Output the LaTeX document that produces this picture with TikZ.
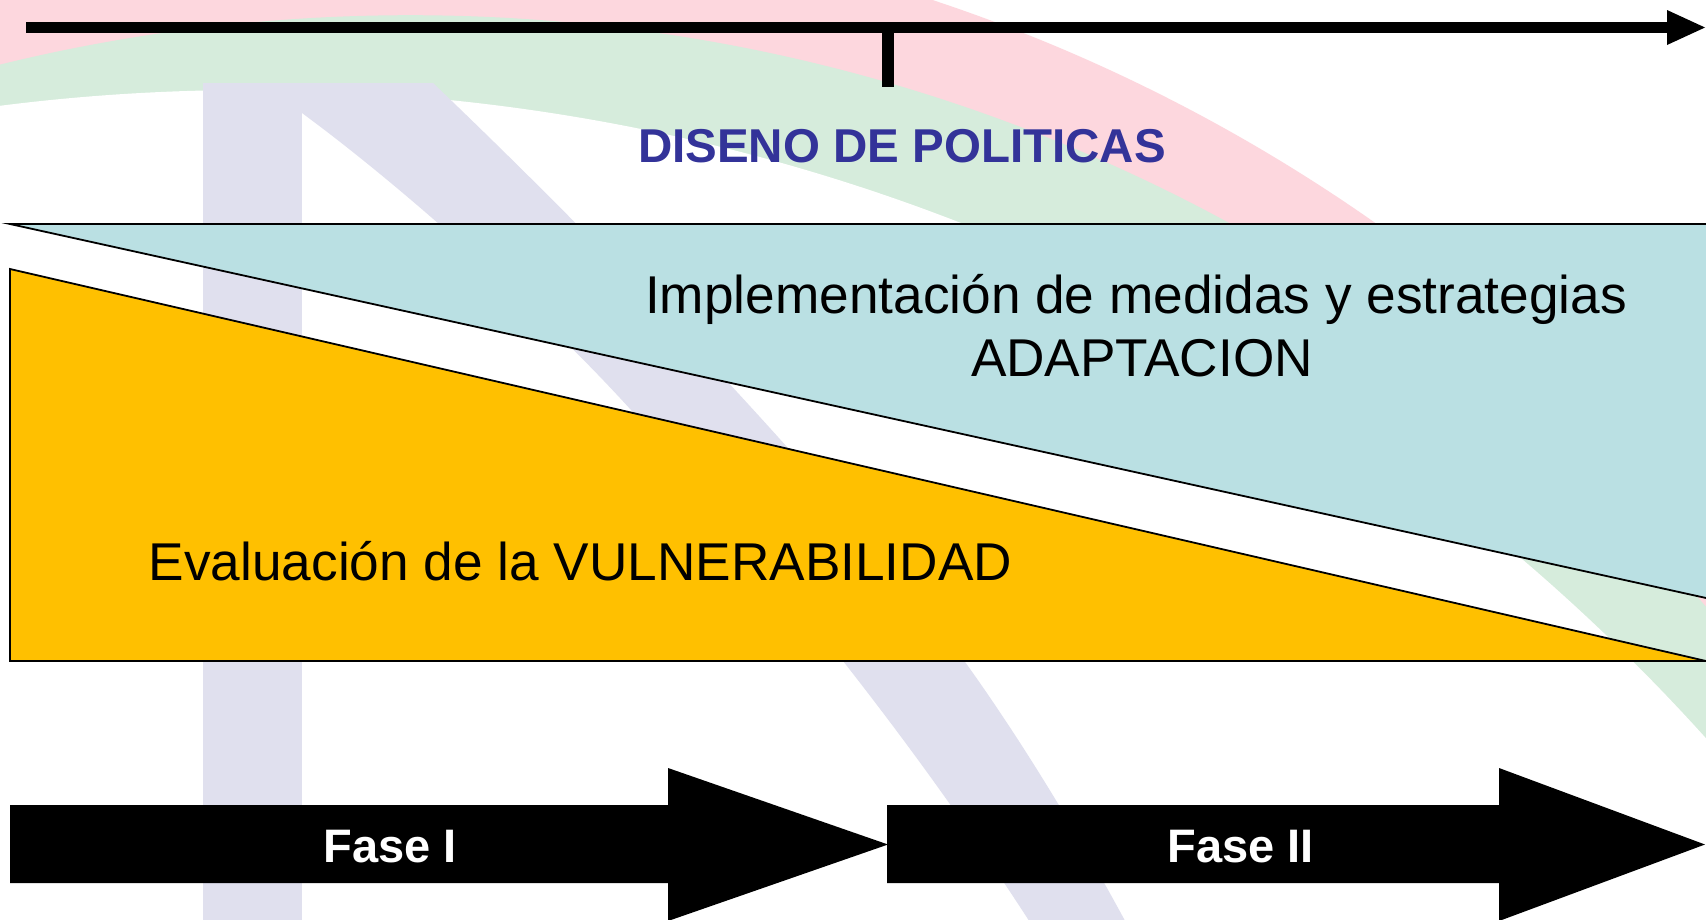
\documentclass[tikz,border=0pt]{standalone}
\usepackage{fontspec}
\setmainfont{Liberation Sans}
\definecolor{wmpink}{RGB}{253,215,222}
\definecolor{wmgreen}{RGB}{214,236,220}
\definecolor{wmlav}{RGB}{224,224,238}
\definecolor{tblue}{RGB}{186,224,227}
\definecolor{torange}{RGB}{255,192,0}
\definecolor{ttitle}{RGB}{51,51,153}
\tikzset{
  band/.style={draw=black, line width=1.8pt, line join=miter},
  bigtext/.style={inner sep=0pt, anchor=base, font=\fontsize{53.2}{60}\selectfont},
  titletext/.style={inner sep=0pt, anchor=base, text=ttitle, font=\fontsize{47.5}{54}\selectfont\bfseries},
  fasetext/.style={inner sep=0pt, anchor=base, text=white, font=\fontsize{47}{54}\selectfont\bfseries},
  blackshape/.style={fill=black}
}
\begin{document}
\begin{tikzpicture}[x=1pt,y=-1pt]
\useasboundingbox (0,0) rectangle (1706,919);
\clip (0,0) rectangle (1706,919);
\fill[white] (0,0) rectangle (1706,919);
% watermark
\fill[wmpink] (395.6,1619.8) circle[radius=1706pt];
\fill[wmgreen] (410.3,1729.9) circle[radius=1714.7pt];
\fill[white] (250,2049) circle[radius=1959pt];
\fill[wmlav] (203,83) rectangle (302,930);
\fill[wmlav] (302,83) -- (302,113)
  .. controls (420,200) and (560,330) .. (640,420)
  .. controls (760,555) and (900,720) .. (1035,930)
  -- (1130,930)
  .. controls (1060,800) and (1000,710) .. (960,655)
  .. controls (860,520) and (660,300) .. (433,83) -- cycle;
% named corner points
\coordinate (bTL) at (10,224);
\coordinate (bTR) at (1712,224);
\coordinate (bBR) at (1712,599.3);
\coordinate (oTL) at (10,269);
\coordinate (oBL) at (10,661);
\coordinate (oTip) at (1706,661);
% adaptation band
\filldraw[band, fill=tblue] (bTL) -- (bTR) -- (bBR) -- cycle;
% vulnerability band
\filldraw[band, fill=torange] (oTL) -- (oTip) -- (oBL) -- cycle;
% time axis
\coordinate (axS) at (26,27.5);
\coordinate (axE) at (1668,27.5);
\coordinate (axTip) at (1705,27.5);
\fill[blackshape] (26,22) rectangle (1668,33);
\fill[blackshape] (1667,10) -- (axTip) -- (1667,45) -- cycle;
\fill[blackshape] (882,27) rectangle (894,87);
% texts
\node[titletext] (dis) at (902,162) {DISENO DE POLITICAS};
\node[bigtext] (imp) at (1136,313) {Implementación de medidas y estrategias};
\node[bigtext] (ada) at (1142,376) {ADAPTACION};
\node[bigtext] (eva) at (580.5,580) {Evaluación de la VULNERABILIDAD};
% phase arrows
\coordinate (f1Tip) at (888,844.5);
\coordinate (f2Tip) at (1705,844.5);
\fill[blackshape] (10,805) -- (668,805) -- (668,768) -- (f1Tip) -- (668,921) -- (668,883) -- (10,883) -- cycle;
\fill[blackshape] (887,805) -- (1499,805) -- (1499,768) -- (f2Tip) -- (1499,921) -- (1499,883) -- (887,883) -- cycle;
\node[fasetext] (f1) at (390,862) {Fase I};
\node[fasetext] (f2) at (1240.5,862) {Fase II};
\end{tikzpicture}
\end{document}
